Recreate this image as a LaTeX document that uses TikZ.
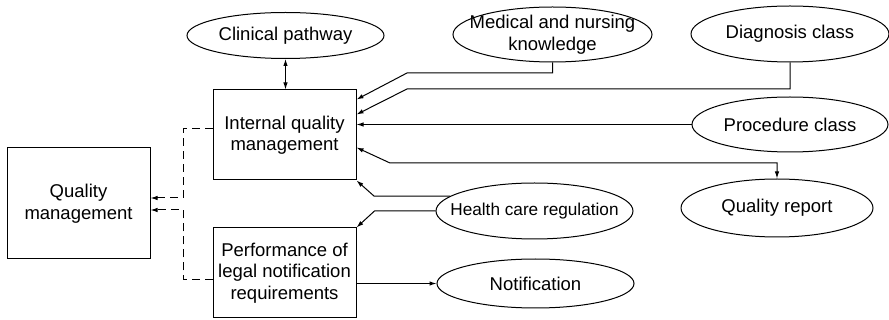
\documentclass[tikz,border=0pt]{standalone}
\usepackage{fontspec}
\setmainfont{Liberation Sans}
\usetikzlibrary{shapes.geometric,arrows.meta,calc}

\begin{document}
\begin{tikzpicture}[x=1pt,y=-1pt,
    font=\fontsize{18.5}{21.5}\selectfont,
    line width=1pt,
    box/.style={draw,rectangle,minimum width=143pt,minimum height=90pt,inner sep=0pt,align=center},
    oval/.style={draw,ellipse,inner sep=0pt},
    arr/.style={-{Latex[length=7pt,width=4.5pt]}},
    dbl/.style={{Latex[length=7pt,width=4.5pt]}-{Latex[length=7pt,width=4.5pt]}},
    dashline/.style={dash pattern=on 8pt off 5pt}]
    \useasboundingbox (0,0) rectangle (889,320);

    % Draw boxes
    \node[box,minimum height=111pt] (qm) at (78.5,203.5) {Quality\\management};
    \node[box] (iqm) at (284.5,135) {Internal quality\\management};
    \node[box] (perf) at (284.5,273) {Performance of\\legal notification\\requirements};

    % Draw ellipses
    \node[oval,minimum width=197pt,minimum height=46pt,label=center:Clinical pathway] (clin) at (285.5,35.5) {};
    \node[oval,minimum width=199pt,minimum height=55pt,label={[align=center]center:Medical and nursing\\knowledge}] (med) at (552.5,34.5) {};
    \node[oval,minimum width=198pt,minimum height=56pt,label=center:Diagnosis class] (diag) at (790,34) {};
    \node[oval,minimum width=196pt,minimum height=55pt,label=center:Procedure class] (proc) at (790,124.5) {};
    \node[oval,minimum width=192pt,minimum height=58pt,label=center:Quality report] (qrep) at (777,208) {};
    \node[oval,minimum width=197pt,minimum height=56pt,label={[font=\fontsize{17.2}{20}\selectfont]center:Health care regulation}] (hcr) at (534.5,211) {};
    \node[oval,minimum width=197pt,minimum height=49pt,label=center:Notification] (notif) at (535.5,283.5) {};

    % Draw connectors
    \draw[dbl] (clin.south) -- (clin.south |- iqm.north);
    \draw[arr] (med.south) |- (407,73) -- ($(iqm.north east)+(0,10)$);
    \draw[arr] (diag.south) |- (407,89) -- ($(iqm.north east)+(0,25)$);
    \draw[arr] (proc.west) -- (proc.west -| iqm.east);
    \draw[dbl] ($(iqm.north east)+(0,58)$) -- (390,163) -| (qrep.north);
    \draw[arr] (hcr.170) -- ++(-76,0) -- (iqm.south east);
    \draw[arr] (hcr.west) -- ++(-61,0) -- (perf.north east);
    \draw[arr] (perf.east |- notif.west) -- (notif.west);

    % Draw dashed links
    \draw[dashline,arr] ($(iqm.west)+(0,-6)$) -| (183,198) -- ($(qm.east)+(0,-5.5)$);
    \draw[dashline,arr] ($(perf.west)+(0,7)$) -| (183,210) -- ($(qm.east)+(0,6.5)$);
\end{tikzpicture}
\end{document}
